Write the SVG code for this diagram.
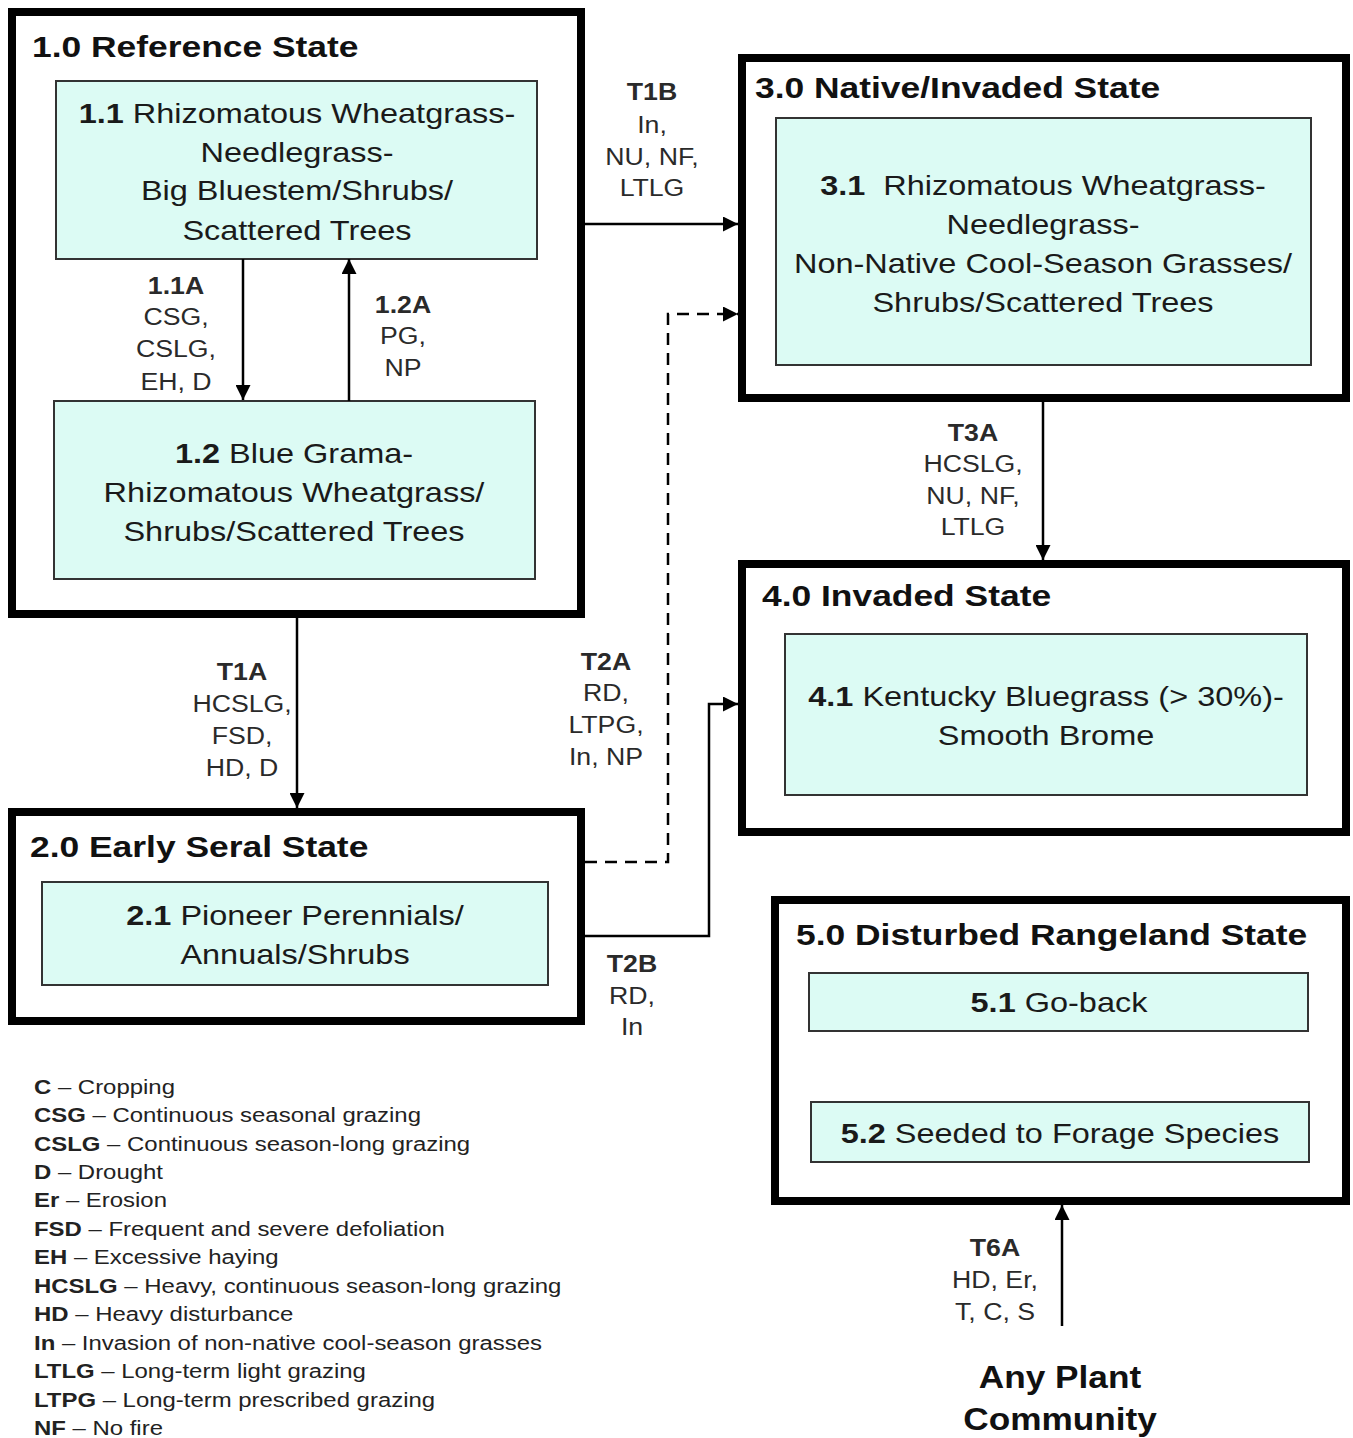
<svg xmlns="http://www.w3.org/2000/svg" width="1353" height="1438" viewBox="0 0 1353 1438">
<style>
.state{fill:#fff;stroke:#000;stroke-width:8}
.comm{fill:#dcfbf4;stroke:#333;stroke-width:2}
.title{font-family:"Liberation Sans",Arial,sans-serif;font-weight:bold;font-size:30px;fill:#111}
.t{font-family:"Liberation Sans",Arial,sans-serif;font-size:28px;fill:#1a1a1a;text-anchor:middle}
.b{font-weight:bold}
.lab{font-family:"Liberation Sans",Arial,sans-serif;font-size:23px;fill:#2a2a2a;text-anchor:middle}
.leg{font-family:"Liberation Sans",Arial,sans-serif;font-size:21px;fill:#222}
.conn{fill:none;stroke:#000;stroke-width:2.5}
.dash{stroke-dasharray:12 8}
</style>
<defs>
<marker id="ahb" viewBox="0 0 10 10" refX="10" refY="5" markerWidth="15" markerHeight="15" orient="auto" markerUnits="userSpaceOnUse">
<path d="M0,0 L10,5 L0,10 z" fill="#000"/>
</marker>
</defs>
<rect width="1353" height="1438" fill="#fff"/>

<g id="state1">
<rect class="state" x="12" y="12" width="569" height="602"/>
<text class="title" transform="translate(32 57) scale(1.18 1)">1.0 Reference State</text>
</g>
<g id="comm11">
<rect class="comm" x="56" y="81" width="481" height="178"/>
<g class="t" transform="translate(297 0) scale(1.16 1)">
<text y="123"><tspan class="b">1.1</tspan> Rhizomatous Wheatgrass-</text>
<text y="162">Needlegrass-</text>
<text y="200">Big Bluestem/Shrubs/</text>
<text y="240">Scattered Trees</text>
</g>
</g>
<g id="comm12">
<rect class="comm" x="54" y="401" width="481" height="178"/>
<g class="t" transform="translate(294 0) scale(1.16 1)">
<text y="463"><tspan class="b">1.2</tspan> Blue Grama-</text>
<text y="502">Rhizomatous Wheatgrass/</text>
<text y="541">Shrubs/Scattered Trees</text>
</g>
</g>

<g id="state3">
<rect class="state" x="742" y="58" width="604" height="340"/>
<text class="title" transform="translate(755 98) scale(1.18 1)">3.0 Native/Invaded State</text>
</g>
<g id="comm31">
<rect class="comm" x="776" y="118" width="535" height="247"/>
<g class="t" transform="translate(1043 0) scale(1.16 1)">
<text y="195" xml:space="preserve"><tspan class="b">3.1</tspan>  Rhizomatous Wheatgrass-</text>
<text y="234">Needlegrass-</text>
<text y="273">Non-Native Cool-Season Grasses/</text>
<text y="312">Shrubs/Scattered Trees</text>
</g>
</g>

<g id="state4">
<rect class="state" x="742" y="564" width="604" height="268"/>
<text class="title" transform="translate(762 606) scale(1.18 1)">4.0 Invaded State</text>
</g>
<g id="comm41">
<rect class="comm" x="785" y="634" width="522" height="161"/>
<g class="t" transform="translate(1046 0) scale(1.16 1)">
<text y="706"><tspan class="b">4.1</tspan> Kentucky Bluegrass (&gt; 30%)-</text>
<text y="745">Smooth Brome</text>
</g>
</g>

<g id="state2">
<rect class="state" x="12" y="812" width="569" height="209"/>
<text class="title" transform="translate(30 857) scale(1.18 1)">2.0 Early Seral State</text>
</g>
<g id="comm21">
<rect class="comm" x="42" y="882" width="506" height="103"/>
<g class="t" transform="translate(295 0) scale(1.16 1)">
<text y="925"><tspan class="b">2.1</tspan> Pioneer Perennials/</text>
<text y="964">Annuals/Shrubs</text>
</g>
</g>

<g id="state5">
<rect class="state" x="775" y="900" width="571" height="301"/>
<text class="title" transform="translate(796 945) scale(1.18 1)">5.0 Disturbed Rangeland State</text>
</g>
<g id="comm51">
<rect class="comm" x="809" y="973" width="499" height="58"/>
<text class="t" transform="translate(1059 1012) scale(1.16 1)"><tspan class="b">5.1</tspan> Go-back</text>
</g>
<g id="comm52">
<rect class="comm" x="811" y="1102" width="498" height="60"/>
<text class="t" transform="translate(1060 1143) scale(1.16 1)"><tspan class="b">5.2</tspan> Seeded to Forage Species</text>
</g>

<g id="any">
<g class="title" text-anchor="middle" style="font-size:32px" transform="translate(1060 0) scale(1.1 1)">
<text y="1388">Any Plant</text>
<text y="1430">Community</text>
</g>
</g>

<g id="legend" class="leg" transform="translate(34 0) scale(1.14 1)">
<text y="1094"><tspan class="b">C</tspan> – Cropping</text>
<text y="1122"><tspan class="b">CSG</tspan> – Continuous seasonal grazing</text>
<text y="1151"><tspan class="b">CSLG</tspan> – Continuous season-long grazing</text>
<text y="1179"><tspan class="b">D</tspan> – Drought</text>
<text y="1207"><tspan class="b">Er</tspan> – Erosion</text>
<text y="1236"><tspan class="b">FSD</tspan> – Frequent and severe defoliation</text>
<text y="1264"><tspan class="b">EH</tspan> – Excessive haying</text>
<text y="1293"><tspan class="b">HCSLG</tspan> – Heavy, continuous season-long grazing</text>
<text y="1321"><tspan class="b">HD</tspan> – Heavy disturbance</text>
<text y="1350"><tspan class="b">In</tspan> – Invasion of non-native cool-season grasses</text>
<text y="1378"><tspan class="b">LTLG</tspan> – Long-term light grazing</text>
<text y="1407"><tspan class="b">LTPG</tspan> – Long-term prescribed grazing</text>
<text y="1435"><tspan class="b">NF</tspan> – No fire</text>
</g>

<g id="connectors">
<path class="conn" d="M243,259 V400" marker-end="url(#ahb)"/>
<path class="conn" d="M349,401 V259" marker-end="url(#ahb)"/>
<path class="conn" d="M585,224 H738" marker-end="url(#ahb)"/>
<path class="conn dash" d="M585,862 H668 V314 H738" marker-end="url(#ahb)"/>
<path class="conn" d="M585,936 H709 V704 H738" marker-end="url(#ahb)"/>
<path class="conn" d="M1043,402 V560" marker-end="url(#ahb)"/>
<path class="conn" d="M297,618 V808" marker-end="url(#ahb)"/>
<path class="conn" d="M1062,1326 V1205" marker-end="url(#ahb)"/>
<g class="lab">
<g transform="translate(176 0) scale(1.16 1)">
<text y="294" class="b">1.1A</text>
<text y="325">CSG,</text>
<text y="357">CSLG,</text>
<text y="390">EH, D</text>
</g>
<g transform="translate(403 0) scale(1.16 1)">
<text y="313" class="b">1.2A</text>
<text y="344">PG,</text>
<text y="376">NP</text>
</g>
<g transform="translate(652 0) scale(1.16 1)">
<text y="100" class="b">T1B</text>
<text y="133">In,</text>
<text y="165">NU, NF,</text>
<text y="196">LTLG</text>
</g>
<g transform="translate(606 0) scale(1.16 1)">
<text y="670" class="b">T2A</text>
<text y="701">RD,</text>
<text y="733">LTPG,</text>
<text y="765">In, NP</text>
</g>
<g transform="translate(632 0) scale(1.16 1)">
<text y="972" class="b">T2B</text>
<text y="1004">RD,</text>
<text y="1035">In</text>
</g>
<g transform="translate(973 0) scale(1.16 1)">
<text y="441" class="b">T3A</text>
<text y="472">HCSLG,</text>
<text y="504">NU, NF,</text>
<text y="535">LTLG</text>
</g>
<g transform="translate(242 0) scale(1.16 1)">
<text y="680" class="b">T1A</text>
<text y="712">HCSLG,</text>
<text y="744">FSD,</text>
<text y="776">HD, D</text>
</g>
<g transform="translate(995 0) scale(1.16 1)">
<text y="1256" class="b">T6A</text>
<text y="1288">HD, Er,</text>
<text y="1320">T, C, S</text>
</g>
</g>
</g>
</svg>
